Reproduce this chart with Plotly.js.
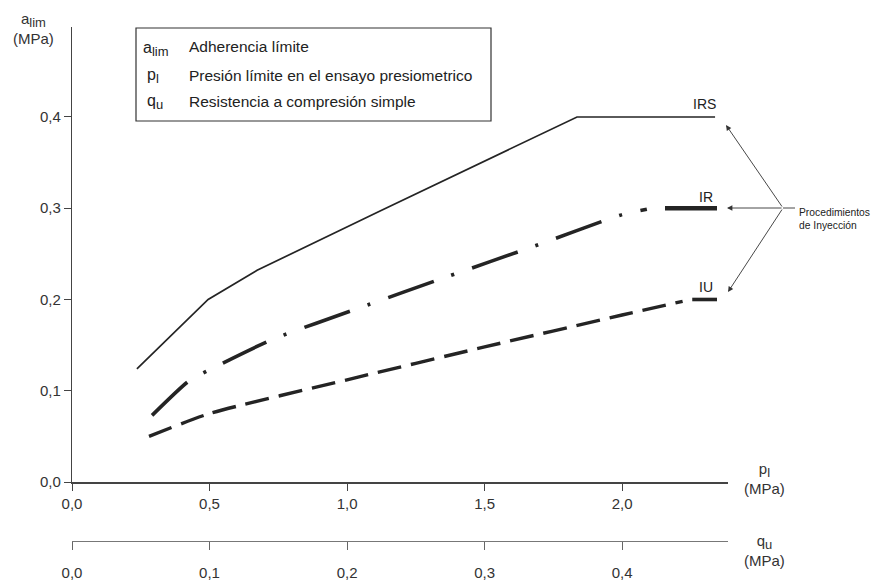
<!DOCTYPE html>
<html>
<head>
<meta charset="utf-8">
<script src="https://cdn.plot.ly/plotly-3.0.1.min.js"></script>
<style>html,body{margin:0;padding:0;background:#fff;}#chart{width:890px;height:581px;}</style>
</head>
<body>
<div id="chart"></div>
<script>
// p_l (MPa) vs a_lim (MPa)
const irsX = [0.236, 0.495, 0.673, 1.12, 1.836, 2.338];
const irsY = [0.124, 0.200, 0.232, 0.297, 0.400, 0.400];

const irX = [0.291, 0.422, 0.500, 0.727, 1.047, 1.364, 1.676, 2.000, 2.090];
const irY = [0.073, 0.110, 0.123, 0.156, 0.191, 0.225, 0.258, 0.293, 0.299];
const irEndX = [2.156, 2.345];
const irEndY = [0.300, 0.300];

const iuX = [0.280, 0.500, 1.000, 1.500, 2.000, 2.220];
const iuY = [0.050, 0.075, 0.112, 0.148, 0.183, 0.198];
const iuEndX = [2.255, 2.345];
const iuEndY = [0.200, 0.200];

const plTicks = [0, 0.5, 1.0, 1.5, 2.0];
const plTickText = ['0,0', '0,5', '1,0', '1,5', '2,0'];
const aTicks = [0, 0.1, 0.2, 0.3, 0.4];
const aTickText = ['0,0', '0,1', '0,2', '0,3', '0,4'];
const quTicks = [0, 0.1, 0.2, 0.3, 0.4];
const quTickText = ['0,0', '0,1', '0,2', '0,3', '0,4'];

const FONT = 'Liberation Sans, Arial, Helvetica, sans-serif';
const INK = '#242424';
const AX = '#444';

// layout geometry helpers (pixel -> paper)
const W = 890, H = 581, ML = 72, MR = 162, MT = 27, MB = 40;
const PW = W - ML - MR, PH = H - MT - MB;
const px = v => (v - ML) / PW;
const py = v => (H - MB - v) / PH;

const traces = [
  {x: irsX, y: irsY, mode: 'lines', line: {color: INK, width: 1.7}, hoverinfo: 'skip', name: 'IRS'},
  {x: irX, y: irY, mode: 'lines', line: {color: INK, width: 3.6, dash: '48px,19px,3px,19px', shape: 'spline', smoothing: 0.6}, hoverinfo: 'skip', name: 'IR'},
  {x: irEndX, y: irEndY, mode: 'lines', line: {color: INK, width: 4.5}, hoverinfo: 'skip', name: 'IR'},
  {x: iuX, y: iuY, mode: 'lines', line: {color: INK, width: 3.4, dash: '24px,10px', shape: 'spline', smoothing: 0.6}, hoverinfo: 'skip', name: 'IU'},
  {x: iuEndX, y: iuEndY, mode: 'lines', line: {color: INK, width: 3.6}, hoverinfo: 'skip', name: 'IU'},
  {x: quTicks, y: quTicks.map(() => null), xaxis: 'x2', yaxis: 'y', mode: 'markers', marker: {opacity: 0}, hoverinfo: 'skip', showlegend: false}
];

const tickFont = {family: FONT, size: 15, color: '#333'};
const sub = (s, size) => '<sub><span style="font-size:' + size + 'px">' + s + '</span></sub>';

const annotations = [
  // y-axis title
  {xref: 'paper', yref: 'paper', x: px(33), y: py(29), text: 'a' + sub('lim', 13) + '<br>(MPa)', showarrow: false, xanchor: 'center', yanchor: 'middle', font: {family: FONT, size: 15, color: '#333'}},
  // x-axis titles
  {xref: 'paper', yref: 'paper', x: px(764), y: py(478), text: 'p' + sub('l', 13) + '<br>(MPa)', showarrow: false, xanchor: 'center', yanchor: 'middle', font: {family: FONT, size: 15, color: '#333'}},
  {xref: 'paper', yref: 'paper', x: px(764), y: py(550), text: 'q' + sub('u', 13) + '<br>(MPa)', showarrow: false, xanchor: 'center', yanchor: 'middle', font: {family: FONT, size: 15, color: '#333'}},
  // legend box content
  {xref: 'paper', yref: 'paper', x: px(141), y: py(49), text: 'a' + sub('lim', 13), showarrow: false, xanchor: 'left', yanchor: 'middle', font: {family: FONT, size: 16, color: '#222'}},
  {xref: 'paper', yref: 'paper', x: px(187), y: py(47), text: 'Adherencia límite', showarrow: false, xanchor: 'left', yanchor: 'middle', font: {family: FONT, size: 15.5, color: '#222'}},
  {xref: 'paper', yref: 'paper', x: px(145), y: py(76), text: 'p' + sub('l', 13), showarrow: false, xanchor: 'left', yanchor: 'middle', font: {family: FONT, size: 16, color: '#222'}},
  {xref: 'paper', yref: 'paper', x: px(187), y: py(75), text: 'Presión límite en el ensayo presiometrico', showarrow: false, xanchor: 'left', yanchor: 'middle', font: {family: FONT, size: 15.5, color: '#222'}},
  {xref: 'paper', yref: 'paper', x: px(145), y: py(102), text: 'q' + sub('u', 13), showarrow: false, xanchor: 'left', yanchor: 'middle', font: {family: FONT, size: 16, color: '#222'}},
  {xref: 'paper', yref: 'paper', x: px(187), y: py(101), text: 'Resistencia a compresión simple', showarrow: false, xanchor: 'left', yanchor: 'middle', font: {family: FONT, size: 15.5, color: '#222'}},
  // curve labels
  {xref: 'paper', yref: 'paper', x: px(704), y: py(104), text: 'IRS', showarrow: false, xanchor: 'center', yanchor: 'middle', font: {family: FONT, size: 14, color: '#222'}},
  {xref: 'paper', yref: 'paper', x: px(706), y: py(197), text: 'IR', showarrow: false, xanchor: 'center', yanchor: 'middle', font: {family: FONT, size: 14, color: '#222'}},
  {xref: 'paper', yref: 'paper', x: px(706), y: py(287), text: 'IU', showarrow: false, xanchor: 'center', yanchor: 'middle', font: {family: FONT, size: 14, color: '#222'}},
  // arrows
  {xref: 'paper', yref: 'paper', x: px(726), y: py(125), ax: 57, ay: 83, text: '', showarrow: true, arrowhead: 2, arrowsize: 1.2, arrowwidth: 0.9, arrowcolor: '#333'},
  {xref: 'paper', yref: 'paper', x: px(727), y: py(208), ax: 56, ay: 0, text: '', showarrow: true, arrowhead: 2, arrowsize: 1.2, arrowwidth: 0.9, arrowcolor: '#333'},
  {xref: 'paper', yref: 'paper', x: px(728), y: py(292), ax: 55, ay: -84, text: '', showarrow: true, arrowhead: 2, arrowsize: 1.2, arrowwidth: 0.9, arrowcolor: '#333'},
  {xref: 'paper', yref: 'paper', x: px(797), y: py(219), text: 'Procedimientos<br>de Inyección', showarrow: false, xanchor: 'left', yanchor: 'middle', align: 'left', font: {family: FONT, size: 10.3, color: '#222'}}
];

const shapes = [
  {type: 'rect', xref: 'paper', yref: 'paper', x0: px(136), x1: px(491), y0: py(121), y1: py(28), line: {color: '#333', width: 1.2}, fillcolor: 'rgba(0,0,0,0)'},
  {type: 'line', xref: 'paper', yref: 'paper', x0: px(783), x1: px(795), y0: py(208), y1: py(208), line: {color: '#333', width: 0.9}}
];

const layout = {
  width: W, height: H,
  margin: {l: ML, r: MR, t: MT, b: MB, pad: 0},
  paper_bgcolor: '#fff', plot_bgcolor: '#fff',
  showlegend: false,
  font: {family: FONT, color: '#333'},
  xaxis: {
    range: [0, 2.385], anchor: 'y', tickvals: plTicks, ticktext: plTickText,
    ticks: 'outside', ticklen: 7, tickwidth: 1, tickcolor: AX,
    showline: true, linecolor: AX, linewidth: 1.6, showgrid: false, zeroline: false,
    tickfont: tickFont, fixedrange: true
  },
  xaxis2: {
    range: [0, 0.477], overlaying: 'x', anchor: 'free', position: 0, side: 'bottom',
    tickvals: quTicks, ticktext: quTickText,
    ticks: 'outside', ticklen: 8, tickwidth: 1, tickcolor: '#666',
    showline: true, linecolor: '#777', linewidth: 1.2, showgrid: false, zeroline: false,
    tickfont: tickFont, ticklabelstandoff: 10, fixedrange: true
  },
  yaxis: {
    domain: [py(482), 1], range: [0, 0.4986], tickvals: aTicks, ticktext: aTickText,
    ticks: 'outside', ticklen: 7, tickwidth: 1, tickcolor: AX,
    showline: true, linecolor: AX, linewidth: 1.2, showgrid: false, zeroline: false,
    tickfont: tickFont, fixedrange: true
  },
  annotations: annotations,
  shapes: shapes
};

Plotly.newPlot('chart', traces, layout, {displayModeBar: false, staticPlot: true});
</script>
</body>
</html>
